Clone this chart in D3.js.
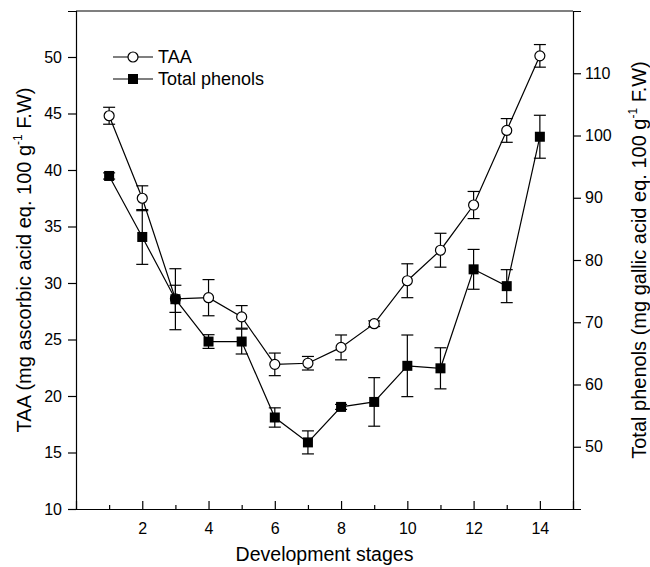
<!DOCTYPE html>
<html>
<head>
<meta charset="utf-8">
<script src="https://cdn.jsdelivr.net/npm/d3@7"></script>
<style>
body { margin: 0; background: #fff; }
svg text { font-family: "Liberation Sans", Arial, sans-serif; fill: #000; }
</style>
</head>
<body>
<svg width="650" height="567"></svg>
<script>
// development stages
var stages = [1, 2, 3, 4, 5, 6, 7, 8, 9, 10, 11, 12, 13, 14];
// TAA (mg ascorbic acid eq. 100 g-1 F.W), left axis
var taa = [44.8, 37.5, 28.6, 28.7, 27.0, 22.8, 22.9, 24.3, 26.4, 30.2, 32.9, 36.9, 43.5, 50.1];
var taaErr = [0.75, 1.1, 1.2, 1.6, 1.0, 1.0, 0.6, 1.1, 0.25, 1.5, 1.5, 1.2, 1.05, 1.0];
// Total phenols (mg gallic acid eq. 100 g-1 F.W), right axis
var phenols = [93.5, 83.7, 73.7, 66.9, 66.9, 54.7, 50.7, 56.4, 57.2, 63.0, 62.6, 78.5, 75.8, 99.8];
var phenolsErr = [0.5, 4.4, 4.9, 1.1, 2.0, 1.55, 1.85, 0.4, 3.9, 4.95, 3.3, 3.2, 2.65, 3.45];

var xTicks = [2, 4, 6, 8, 10, 12, 14];
var xMinor = [1, 3, 5, 7, 9, 11, 13];
var leftTicks = [10, 15, 20, 25, 30, 35, 40, 45, 50];
var rightTicks = [50, 60, 70, 80, 90, 100, 110];

var svg = d3.select("svg"),
	margin = {top: 11, right: 77, bottom: 58, left: 76},
	width = 650 - margin.left - margin.right,
	height = 567 - margin.top - margin.bottom,
	g = svg.append("g").attr("transform", "translate(" + margin.left + "," + margin.top + ")");

var x = d3.scaleLinear().domain([0, 15]).range([0, width]);
var yL = d3.scaleLinear().domain([10, 54.07]).range([height, 0]);
var yR = d3.scaleLinear().domain([40, 120]).range([height, 0]);

// bottom axis, ticks point inward
g.append("g")
	.attr("transform", "translate(0," + height + ")")
	.call(d3.axisBottom(x).tickValues(xTicks).tickSize(-8).tickPadding(14).tickFormat(d3.format("d")));
g.append("g")
	.attr("transform", "translate(0," + height + ")")
	.call(d3.axisBottom(x).tickValues(xMinor).tickSize(-4).tickFormat(""))
	.select(".domain").remove();

g.append("g")
	.call(d3.axisLeft(yL).tickValues(leftTicks).tickSize(8).tickPadding(6));
g.append("g")
	.attr("transform", "translate(" + width + ",0)")
	.call(d3.axisRight(yR).tickValues(rightTicks).tickSize(8).tickPadding(4));

svg.selectAll(".tick text").attr("font-size", 16).attr("font-family", "Liberation Sans, Arial, sans-serif");
svg.selectAll(".domain, .tick line").attr("stroke", "#000").attr("stroke-width", 1.2);

// top border
g.append("line")
	.attr("x1", 0).attr("x2", width).attr("y1", 0).attr("y2", 0)
	.attr("stroke", "#000").attr("stroke-width", 1.2);

// axis titles
svg.append("text")
	.attr("x", margin.left + width / 2)
	.attr("y", 561)
	.attr("text-anchor", "middle")
	.attr("font-size", 19.5)
	.text("Development stages");

function yTitle(tx, label) {
	var t = svg.append("text")
		.attr("transform", "translate(" + tx + "," + (margin.top + height / 2) + ") rotate(-90)")
		.attr("text-anchor", "middle")
		.attr("font-size", 20);
	t.append("tspan").text(label + " eq. 100 g");
	t.append("tspan").attr("font-size", 12).attr("dy", -9).text("-1");
	t.append("tspan").attr("dy", 9).text(" F.W)");
}
yTitle(31, "TAA (mg ascorbic acid");
yTitle(646, "Total phenols (mg gallic acid");

// one series: error bars, line, markers
function drawSeries(vals, errs, y, marker) {
	var data = stages.map(function(s, i) { return {s: s, v: vals[i], e: errs[i]}; });
	var cap = 6;
	var eb = g.append("g").attr("stroke", "#000").attr("stroke-width", 1.2);
	data.forEach(function(d) {
		var cx = x(d.s);
		eb.append("line").attr("x1", cx).attr("x2", cx).attr("y1", y(d.v - d.e)).attr("y2", y(d.v + d.e));
		eb.append("line").attr("x1", cx - cap).attr("x2", cx + cap).attr("y1", y(d.v + d.e)).attr("y2", y(d.v + d.e));
		eb.append("line").attr("x1", cx - cap).attr("x2", cx + cap).attr("y1", y(d.v - d.e)).attr("y2", y(d.v - d.e));
	});

	var line = d3.line()
		.x(function(d) { return x(d.s); })
		.y(function(d) { return y(d.v); });
	g.append("path")
		.datum(data)
		.attr("fill", "none")
		.attr("stroke", "#000")
		.attr("stroke-width", 1.2)
		.attr("d", line);

	if (marker === "circle") {
		g.selectAll(null).data(data).enter().append("circle")
			.attr("cx", function(d) { return x(d.s); })
			.attr("cy", function(d) { return y(d.v); })
			.attr("r", 5)
			.attr("fill", "#fff").attr("stroke", "#000").attr("stroke-width", 1.2);
	} else {
		g.selectAll(null).data(data).enter().append("rect")
			.attr("x", function(d) { return x(d.s) - 5; })
			.attr("y", function(d) { return y(d.v) - 5; })
			.attr("width", 10).attr("height", 10)
			.attr("fill", "#000");
	}
}
drawSeries(taa, taaErr, yL, "circle");
drawSeries(phenols, phenolsErr, yR, "square");

// legend
var legend = [{name: "TAA", m: "circle"}, {name: "Total phenols", m: "square"}];
legend.forEach(function(d, i) {
	var ly = 57 + i * 22;
	svg.append("line").attr("x1", 113).attr("x2", 153).attr("y1", ly).attr("y2", ly)
		.attr("stroke", "#000").attr("stroke-width", 1.2);
	if (d.m === "circle") {
		svg.append("circle").attr("cx", 133).attr("cy", ly).attr("r", 5)
			.attr("fill", "#fff").attr("stroke", "#000").attr("stroke-width", 1.2);
	} else {
		svg.append("rect").attr("x", 128).attr("y", ly - 5).attr("width", 10).attr("height", 10)
			.attr("fill", "#000");
	}
	svg.append("text").attr("x", 158).attr("y", ly).attr("dy", "0.35em")
		.attr("font-size", 18).text(d.name);
});
</script>
</body>
</html>
